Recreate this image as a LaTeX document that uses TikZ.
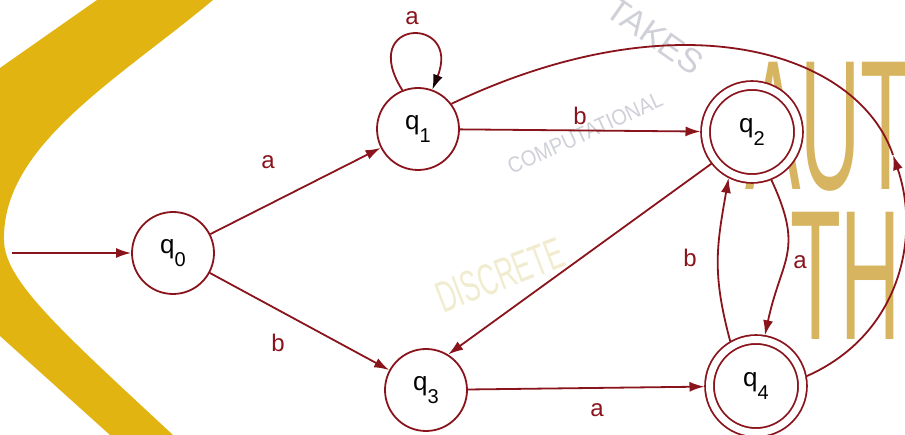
\documentclass[tikz,border=0pt]{standalone}
\usepackage{fontspec}
\setmainfont{Liberation Sans}
\usetikzlibrary{arrows.meta}
\definecolor{edgered}{RGB}{138,20,28}
\definecolor{bandgold}{RGB}{226,180,18}
\definecolor{goldtxt}{RGB}{214,180,96}
\definecolor{fadegray}{RGB}{150,152,170}
\definecolor{fadeyellow}{RGB}{225,215,150}
\newcommand{\qsub}[1]{q\raisebox{-13pt}{\fontsize{20}{22}\selectfont #1}}
\begin{document}
\begin{tikzpicture}[x=1pt,y=-1pt,
  state/.style={circle, draw=edgered, line width=1.8pt, fill=white, minimum size=82pt, inner sep=0pt, font=\fontsize{26}{30}\selectfont},
  accept/.style={state, minimum size=93pt, double=white, double distance=7pt, outer sep=5pt},
  edge/.style={draw=edgered, line width=1.8pt, -{Latex[length=15pt,width=10pt]}},
  plain/.style={draw=edgered, line width=1.8pt},
  lbl/.style={text=edgered, font=\fontsize{24}{28}\selectfont, inner sep=0pt},
  bigtxt/.style={text=goldtxt, inner sep=0pt, font=\fontsize{185}{185}\selectfont, xscale=0.45, anchor=north west},
  fadetxt/.style={inner sep=0pt, opacity=0.45}]
\useasboundingbox (0,0) rectangle (905,435);
\clip (0,0) rectangle (905,435);
\fill[white] (0,0) rectangle (905,435);
% yellow swoosh
\fill[bandgold] (97,0) -- (213,0) .. controls (120,78) and (2,145) .. (4,240)
   .. controls (4,280) and (60,330) .. (173,435) -- (110,435) -- (-20,318) -- (-20,82) -- cycle;
% faded background lettering
\node[bigtxt] (bgA) at (745,62) {AUT};
\node[bigtxt] (bgB) at (790,212) {THE};
\node[fadetxt, text=fadegray, rotate=-35, font=\fontsize{34}{34}\selectfont] (bgC) at (655,36) {TAKES};
\node[fadetxt, text=fadegray, rotate=24.5, xscale=0.9, font=\fontsize{22}{22}\selectfont] (bgD) at (585,133) {COMPUTATIONAL};
\node[fadetxt, text=fadeyellow, rotate=21, xscale=0.6, font=\fontsize{44}{44}\selectfont] (bgE) at (500,275) {DISCRETE};
% states
\node[state]  (q0) at (173,253) {\qsub{0}};
\node[state]  (q1) at (418,129) {\qsub{1}};
\node[accept] (q2) at (752,132) {\qsub{2}};
\node[state]  (q3) at (426,390) {\qsub{3}};
\node[accept] (q4) at (756,386) {\qsub{4}};
\coordinate (s) at (12,253);
\coordinate (m) at (893,155);
% transitions
\draw[edge] (s) -- (q0);
\draw[edge] (q0) -- (q1);
\draw[edge] (q0) -- (q3);
\draw[draw=edgered, line width=1.8pt, -{Latex[length=15pt,width=10pt,color=black!80!edgered]}]
   (q1.112) .. controls (357,18) and (462,15) .. (q1.70);
\draw[edge] (q1) -- (q2);
\draw[edge] (q2.218) -- (q3.58);
\draw[edge] (q2.-68) to[out=-65, in=78, looseness=1.3] (q4.80);
\draw[edge] (q4.120) to[out=105, in=-100, looseness=1.1] (q2.-117);
\draw[edge] (q3) -- (q4);
\draw[edge] (q4.11) .. controls (900,335) and (921,237) .. (m);
\draw[plain] (m) .. controls (858,52) and (680,-5) .. (q1.37);
% labels
\node[lbl] (la) at (268,162) {a};
\node[lbl] (lb) at (278,343) {b};
\node[lbl] (lc) at (412,18) {a};
\node[lbl] (ld) at (580,116) {b};
\node[lbl] (le) at (800,262) {a};
\node[lbl] (lf) at (690,258) {b};
\node[lbl] (lg) at (597,410) {a};
\end{tikzpicture}
\end{document}
